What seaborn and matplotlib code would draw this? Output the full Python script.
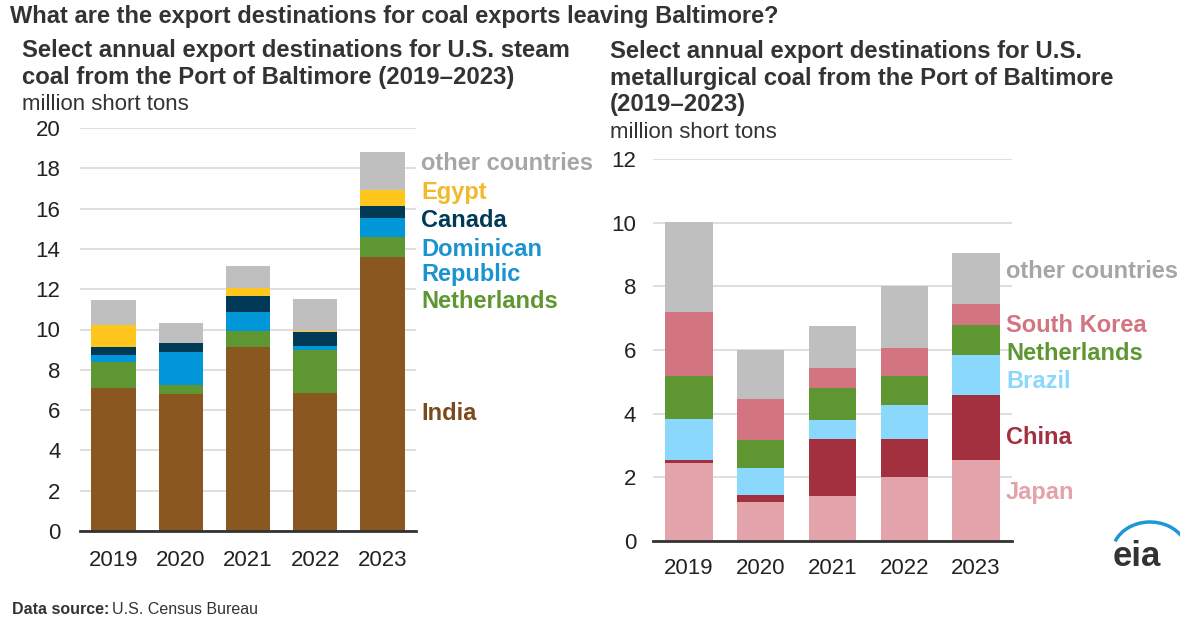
import numpy as np
import pandas as pd
import matplotlib
matplotlib.use('Agg')
import matplotlib.pyplot as plt
from matplotlib.patches import Arc
import seaborn as sns

years = ['2019', '2020', '2021', '2022', '2023']

# steam coal, million short tons
steam_countries = ['India', 'Netherlands', 'Dominican Republic', 'Canada', 'Egypt', 'other countries']
steam_india = [7.11, 6.78, 9.14, 6.84, 13.62]
steam_netherlands = [1.27, 0.48, 0.78, 2.12, 0.96]
steam_dominican = [0.33, 1.62, 0.96, 0.23, 0.94]
steam_canada = [0.41, 0.43, 0.77, 0.68, 0.63]
steam_egypt = [1.09, 0.0, 0.40, 0.06, 0.79]
steam_other = [1.23, 1.02, 1.12, 1.56, 1.85]
steam_colors = ['#8B5721', '#5E9732', '#0096D7', '#003A57', '#FFC61E', '#BFBFBF']

# metallurgical coal, million short tons
met_countries = ['Japan', 'China', 'Brazil', 'Netherlands', 'South Korea', 'other countries']
met_japan = [2.45, 1.23, 1.40, 2.02, 2.56]
met_china = [0.09, 0.23, 1.80, 1.18, 2.03]
met_brazil = [1.30, 0.83, 0.59, 1.07, 1.26]
met_netherlands = [1.34, 0.88, 1.03, 0.91, 0.95]
met_skorea = [2.00, 1.30, 0.61, 0.87, 0.65]
met_other = [2.84, 1.52, 1.31, 1.97, 1.60]
met_colors = ['#E2A3AB', '#A3303F', '#8AD9FD', '#5E9732', '#D27580', '#BFBFBF']

W, H = 1200, 631
plt.rcParams['font.family'] = ['Liberation Sans', 'DejaVu Sans']
fig = plt.figure(figsize=(W / 100, H / 100), dpi=100)


def px(x, y):
    return x / W, 1 - y / H


def stacked(ax, series, colors, ymax, step):
    df = pd.DataFrame(np.array(series).T, index=years)
    cum = df.cumsum(axis=1)
    for i in reversed(range(cum.shape[1])):
        sns.barplot(x=years, y=cum.iloc[:, i].values, color=colors[i], width=0.66,
                    saturation=1, ax=ax, zorder=3)
    ax.set_xlim(-0.5, 4.5)
    ax.set_ylim(0, ymax)
    ax.set_yticks(np.arange(0, ymax + 0.1, step))
    ax.yaxis.grid(True, color='#D9D9D9', lw=1.2, zorder=0)
    ax.set_axisbelow(True)
    sns.despine(ax=ax, left=True)
    ax.spines['bottom'].set_color('#333333')
    ax.spines['bottom'].set_linewidth(2)
    ax.spines['bottom'].set_zorder(5)
    ax.tick_params(length=0, labelsize=16, labelcolor='#222222')
    ax.set_xlabel('')
    ax.set_ylabel('')


ax1 = fig.add_axes([80 / W, 1 - 531 / H, 336 / W, 403 / H])
stacked(ax1, [steam_india, steam_netherlands, steam_dominican, steam_canada,
              steam_egypt, steam_other], steam_colors, 20, 2)
ax1.tick_params(axis='y', pad=14)
ax1.tick_params(axis='x', pad=14)

ax2 = fig.add_axes([653 / W, 1 - 541 / H, 359 / W, 382 / H])
stacked(ax2, [met_japan, met_china, met_brazil, met_netherlands,
              met_skorea, met_other], met_colors, 12, 2)
ax2.tick_params(axis='y', pad=12)
ax2.tick_params(axis='x', pad=12)

# titles
fig.text(*px(10, 17), 'What are the export destinations for coal exports leaving Baltimore?',
         fontsize=17, fontweight='bold', color='#333333', va='center')
fig.text(*px(22, 64), 'Select annual export destinations for U.S. steam\ncoal from the Port of Baltimore (2019\u20132023)',
         fontsize=17.2, fontweight='bold', color='#333333', va='center', linespacing=1.17)
fig.text(*px(22, 104), 'million short tons', fontsize=16, color='#333333', va='center')
fig.text(*px(610, 78), 'Select annual export destinations for U.S.\nmetallurgical coal from the Port of Baltimore\n(2019\u20132023)',
         fontsize=17.2, fontweight='bold', color='#333333', va='center', linespacing=1.17)
fig.text(*px(610, 133), 'million short tons', fontsize=16, color='#333333', va='center')

# series labels
left_labels = [('other countries', 164, '#A6A6A6'), ('Egypt', 192, '#F2B92B'),
               ('Canada', 220, '#003A57'), ('Dominican\nRepublic', 262, '#1C93D1'),
               ('Netherlands', 302, '#5E9732'), ('India', 414, '#7A4A1C')]
for txt, y, c in left_labels:
    fig.text(*px(421, y), txt, fontsize=17, fontweight='bold', color=c, va='center',
             linespacing=1.08)

right_labels = [('other countries', 271, '#A6A6A6'), ('South Korea', 326, '#D27580'),
                ('Netherlands', 354, '#5E9732'), ('Brazil', 381, '#8AD9FD'),
                ('China', 437, '#A3303F'), ('Japan', 493, '#E2A3AB')]
for txt, y, c in right_labels:
    fig.text(*px(1006, y), txt, fontsize=17, fontweight='bold', color=c, va='center')

# source
fig.text(*px(12, 610), 'Data source:', fontsize=11.5, fontweight='bold', color='#333333', va='center')
fig.text(*px(112, 610), 'U.S. Census Bureau', fontsize=11.5, color='#333333', va='center')

# eia logo
fig.text(*px(1137, 556), 'eia', fontsize=25, fontweight='bold', color='#333333',
         ha='center', va='center')
lax = fig.add_axes([1100 / W, 1 - 560 / H, 80 / W, 45 / H])
lax.set_xlim(0, 80)
lax.set_ylim(0, 45)
lax.axis('off')
lax.add_patch(Arc((50, 6), 76, 64, theta1=25, theta2=160, color='#1F97D4', lw=2.5))

fig.savefig('out.png', dpi=100)
